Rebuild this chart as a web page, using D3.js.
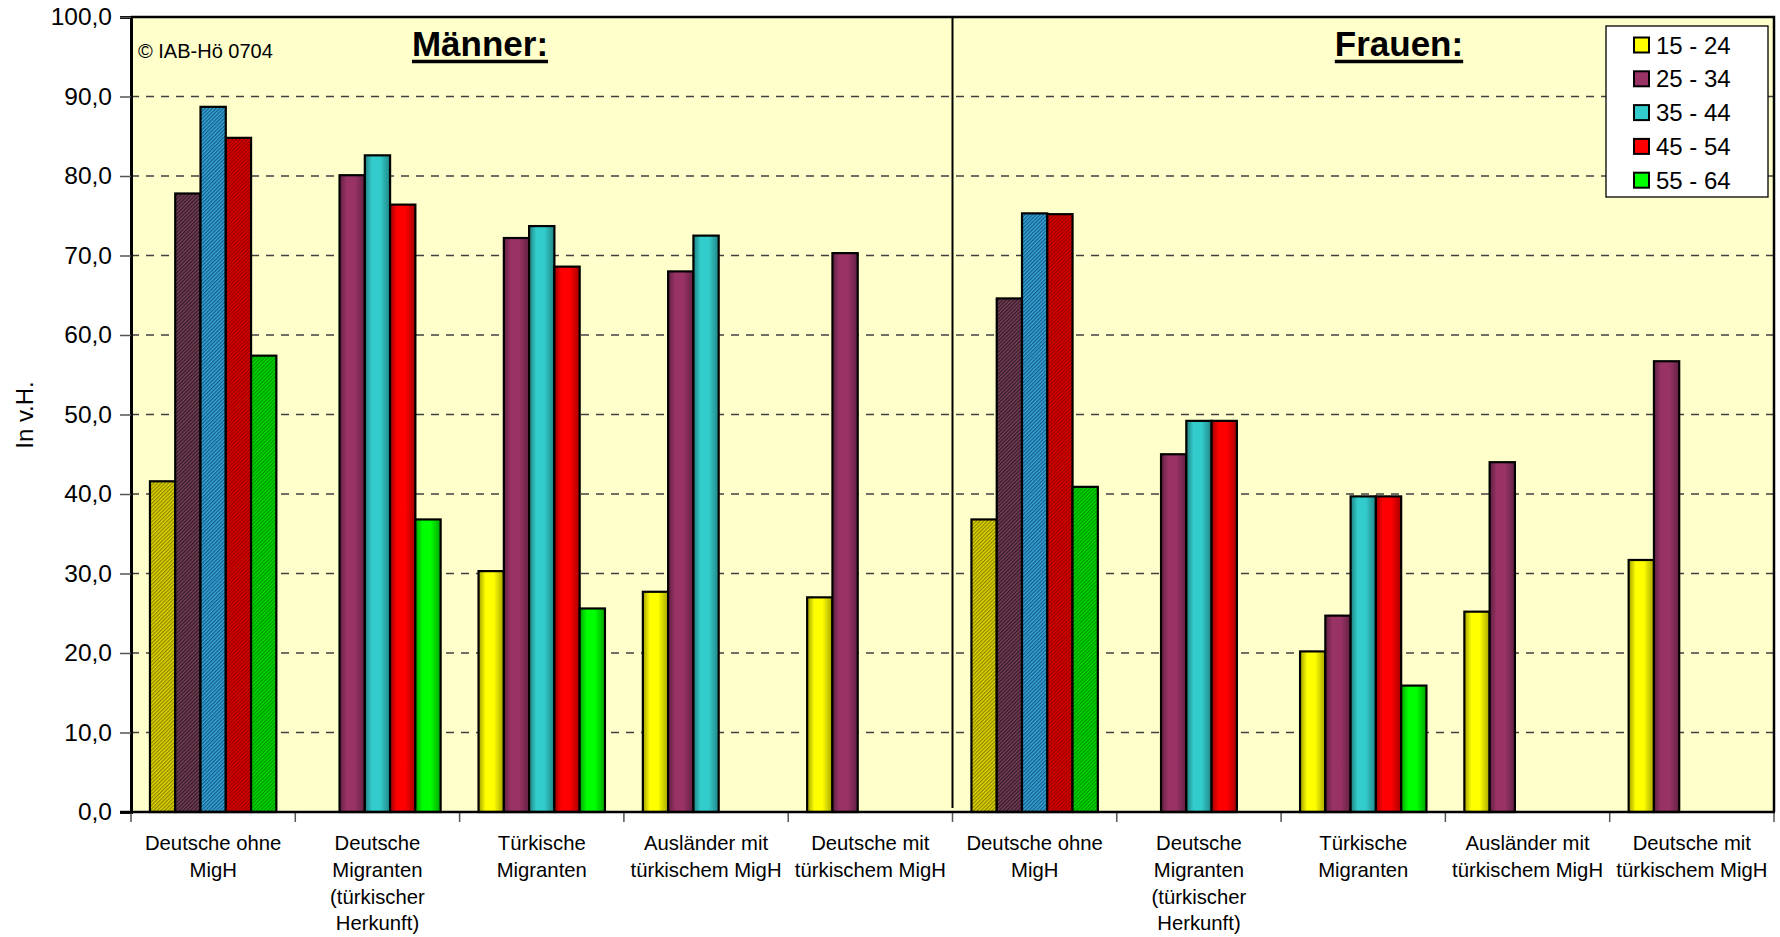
<!DOCTYPE html>
<html><head><meta charset="utf-8">
<script src="https://cdn.jsdelivr.net/npm/d3@7"></script>
<style>
body{margin:0;background:#fff}
svg{display:block}
text{font-family:Arial,"Liberation Sans",sans-serif;fill:#000}
</style>
</head><body>
<svg id="c" width="1780" height="937"></svg>
<script>
// ---------- data ----------
const categories = ["M1","M2","M3","M4","M5","F1","F2","F3","F4","F5"];
const categoryLines = [
  ["Deutsche ohne","MigH"],
  ["Deutsche","Migranten","(türkischer","Herkunft)"],
  ["Türkische","Migranten"],
  ["Ausländer mit","türkischem MigH"],
  ["Deutsche mit","türkischem MigH"],
  ["Deutsche ohne","MigH"],
  ["Deutsche","Migranten","(türkischer","Herkunft)"],
  ["Türkische","Migranten"],
  ["Ausländer mit","türkischem MigH"],
  ["Deutsche mit","türkischem MigH"]
];
const seriesNames = ["15 - 24","25 - 34","35 - 44","45 - 54","55 - 64"];
const v15_24 = [41.6, null, 30.3, 27.7, 27.0, 36.8, null, 20.2, 25.2, 31.7];
const v25_34 = [77.8, 80.1, 72.2, 68.0, 70.3, 64.6, 45.0, 24.7, 44.0, 56.7];
const v35_44 = [88.7, 82.6, 73.7, 72.5, null, 75.3, 49.2, 39.7, null, null];
const v45_54 = [84.8, 76.4, 68.6, null, null, 75.2, 49.2, 39.7, null, null];
const v55_64 = [57.4, 36.8, 25.6, null, null, 40.9, null, 15.9, null, null];
const seriesValues = [v15_24, v25_34, v35_44, v45_54, v55_64];
const hatchedCategories = ["M1","F1"];
const yTicks = [0,10,20,30,40,50,60,70,80,90,100];
const groupTitles = ["Männer:","Frauen:"];
const copyrightText = "© IAB-Hö 0704";
const yTitle = "In v.H.";

// ---------- styles ----------
const colors = ["#FFFF00","#993366","#33CCCC","#FF0000","#00FF00"];
const hatchLight = ["#e0d800","#7a4058","#38a8d8","#e00000","#00dd00"];
const hatchDark  = ["#8a8200","#2e1a26","#145a88","#900000","#009000"];

const svg = d3.select("#c");
const L = 131, R = 1774, T = 17, B = 812;

const x = d3.scaleBand().domain(categories).range([L, R]).paddingInner(0).paddingOuter(0);
const xs = d3.scaleBand().domain(d3.range(seriesNames.length)).range([0, x.bandwidth()]).paddingInner(0).paddingOuter(0.75);
const y = d3.scaleLinear().domain([0,100]).range([B, T]);

const defs = svg.append("defs");
colors.forEach((c,i)=>{
  const g = defs.append("linearGradient").attr("id","grad"+i).attr("x1",0).attr("x2",1).attr("y1",0).attr("y2",0);
  const base = d3.color(c);
  [[0, base.darker(1.3)],[0.28, base],[0.6, base],[1, base.darker(1.2)]].forEach(([o,col])=>{
    g.append("stop").attr("offset",o).attr("stop-color",col.formatHex());
  });
  const p = defs.append("pattern").attr("id","hatch"+i).attr("patternUnits","userSpaceOnUse")
    .attr("width",2.6).attr("height",2.6).attr("patternTransform","rotate(45)");
  p.append("rect").attr("width",2.6).attr("height",2.6).attr("fill",hatchLight[i]);
  p.append("rect").attr("width",1.2).attr("height",2.6).attr("fill",hatchDark[i]);
});

// background
svg.append("rect").attr("x",L).attr("y",T).attr("width",R-L).attr("height",B-T).attr("fill","#FFFFCC");

// gridlines
svg.append("g").selectAll("line").data(yTicks.filter(d=>d>0 && d<100)).join("line")
  .attr("x1",L).attr("x2",R).attr("y1",d=>y(d)).attr("y2",d=>y(d))
  .attr("stroke","#404040").attr("stroke-width",1.3).attr("stroke-dasharray","8,7");

// bars
const barData = [];
categories.forEach((c,ci)=>{
  seriesValues.forEach((arr,si)=>{
    if (arr[ci] != null) barData.push({c, si, v: arr[ci]});
  });
});
svg.append("g").selectAll("rect").data(barData).join("rect")
  .attr("x", d=>x(d.c)+xs(d.si))
  .attr("width", xs.bandwidth())
  .attr("y", d=>y(d.v))
  .attr("height", d=>y(0)-y(d.v))
  .attr("fill", d=> hatchedCategories.includes(d.c) ? `url(#hatch${d.si})` : `url(#grad${d.si})`)
  .attr("stroke","#000").attr("stroke-width",2.2);

// divider between Männer and Frauen
svg.append("line").attr("x1",x("F1")).attr("x2",x("F1")).attr("y1",T).attr("y2",B-4)
  .attr("stroke","#000").attr("stroke-width",2);

// plot border (top/right)
svg.append("path").attr("d",`M${L},${T}H${R}V${B}`).attr("fill","none").attr("stroke","#000").attr("stroke-width",2.5);

// y axis
const yAxis = d3.axisLeft(y).tickValues(yTicks).tickSize(11).tickPadding(8)
  .tickFormat(d=>d3.format(".1f")(d).replace(".",","));
const gy = svg.append("g").attr("transform",`translate(${L},0)`).call(yAxis);
gy.select(".domain").attr("stroke","#000").attr("stroke-width",3);
gy.selectAll(".tick line").attr("stroke","#555").attr("stroke-width",1.5);
gy.selectAll(".tick text").attr("font-size",24.5).attr("font-family","Arial, 'Liberation Sans', sans-serif").attr("fill","#000");

// x axis line + ticks at band boundaries
const boundaries = categories.map(c=>x(c)).concat([R]);
svg.append("g").selectAll("line").data(boundaries).join("line")
  .attr("x1",d=>d).attr("x2",d=>d).attr("y1",B).attr("y2",B+10)
  .attr("stroke","#555").attr("stroke-width",1.5);
svg.append("line").attr("x1",L-11).attr("x2",R+1).attr("y1",B).attr("y2",B).attr("stroke","#000").attr("stroke-width",2.5);

// x labels
const xl = svg.append("g").selectAll("text").data(categories).join("text")
  .attr("x", d=>x(d)+x.bandwidth()/2).attr("y", 850)
  .attr("text-anchor","middle").attr("font-size",20.3);
xl.each(function(d,i){
  d3.select(this).selectAll("tspan").data(categoryLines[i]).join("tspan")
    .attr("x", x(d)+x.bandwidth()/2).attr("dy",(t,j)=> j===0 ? 0 : 26.8).text(t=>t);
});

// y title
svg.append("text").attr("transform","translate(25,415) rotate(-90)").attr("text-anchor","middle")
  .attr("dy","0.35em").attr("font-size",24).text(yTitle);

// copyright
svg.append("text").attr("x",138).attr("y",58).attr("font-size",20).text(copyrightText);

// group titles
const titlePos = [480, 1399];
groupTitles.forEach((t,i)=>{
  const tx = svg.append("text").attr("x",titlePos[i]).attr("y",56).attr("text-anchor","middle")
    .attr("font-size",35).attr("font-weight","bold").text(t);
  const w = tx.node().getComputedTextLength();
  svg.append("line").attr("x1",titlePos[i]-w/2).attr("x2",titlePos[i]+w/2).attr("y1",61.5).attr("y2",61.5)
    .attr("stroke","#000").attr("stroke-width",3.5);
});

// legend
const lg = svg.append("g");
lg.append("rect").attr("x",1606).attr("y",26).attr("width",162).attr("height",171)
  .attr("fill","#fff").attr("stroke","#000").attr("stroke-width",1.3);
const li = lg.selectAll("g.item").data(seriesNames).join("g").attr("class","item")
  .attr("transform",(d,i)=>`translate(1634,${45+i*33.8})`);
li.append("rect").attr("x",0).attr("y",-7.5).attr("width",15).attr("height",15)
  .attr("fill",(d,i)=>colors[i]).attr("stroke","#000").attr("stroke-width",2);
li.append("text").attr("x",22).attr("dy","0.36em").attr("font-size",24).text(d=>d);
</script>
</body></html>
